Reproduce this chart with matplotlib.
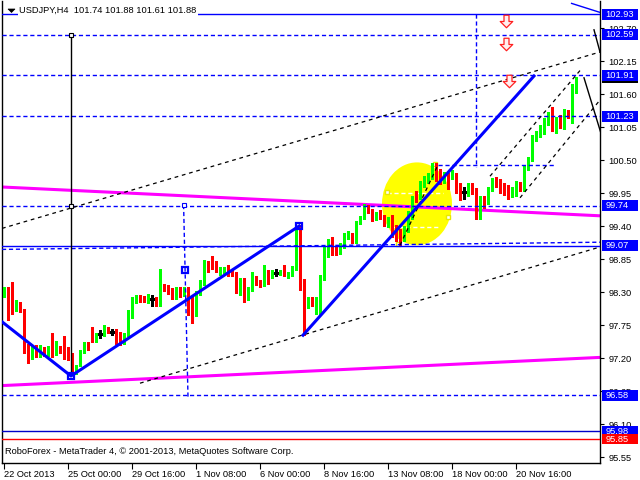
import numpy as np
import matplotlib
matplotlib.use("Agg")
import matplotlib.pyplot as plt
from matplotlib.patches import Ellipse, Rectangle, Polygon
from matplotlib.path import Path
from matplotlib.transforms import blended_transform_factory

plt.rcParams['font.family'] = ['Liberation Sans', 'DejaVu Sans']
FS = 6.7

# --- USDJPY H4 candles, one per 4h bar ---
opens = [98.23, 98.34, 98.14, 98.01, 98.11, 98.00, 97.42, 97.19, 97.40, 97.23,
         97.36, 97.29, 97.32, 97.28, 97.36, 97.35, 97.28, 97.27, 96.97, 97.08,
         97.31, 97.44, 97.61, 97.47, 97.60, 97.58, 97.69, 97.64, 97.67, 97.61,
         97.47, 97.58, 97.89, 98.14, 98.23, 98.22, 98.14, 98.19, 98.19, 98.08,
         98.42, 98.39, 98.31, 98.22, 98.34, 98.25, 98.34, 98.18, 97.93, 98.28,
         98.44, 98.78, 98.86, 98.76, 98.64, 98.64, 98.69, 98.67, 98.60, 98.28,
         98.50, 98.18, 98.34, 98.53, 98.47, 98.42, 98.64, 98.57, 98.62, 98.61,
         98.72, 98.57, 98.58, 98.69, 99.36, 98.50, 98.04, 98.19, 98.08, 98.17,
         98.53, 98.92, 99.19, 99.03, 98.97, 99.06, 99.21, 99.23, 99.12, 99.46,
         99.53, 99.69, 99.66, 99.51, 99.62, 99.54, 99.42, 99.46, 99.38, 99.33,
         99.21, 99.33, 99.56, 99.90, 99.89, 100.08, 100.17, 100.22, 100.36, 100.31,
         100.17, 100.25, 100.23, 100.25, 100.10, 99.97, 99.94, 100.08, 100.00, 99.54,
         99.86, 99.80, 100.00, 100.18, 100.14, 100.08, 100.05, 99.92, 99.94, 100.11,
         100.00, 100.38, 100.50, 100.86, 100.92, 100.97, 101.12, 101.33, 101.06, 101.22,
         101.07, 101.30, 101.26, 101.74]
highs = [98.38, 98.39, 98.47, 98.16, 98.13, 98.01, 97.43, 97.42, 97.42, 97.41,
         97.38, 97.40, 97.61, 97.49, 97.40, 97.56, 97.39, 97.28, 97.09, 97.33,
         97.47, 97.47, 97.71, 97.62, 97.67, 97.75, 97.71, 97.68, 97.69, 97.63,
         97.62, 98.00, 98.22, 98.25, 98.25, 98.24, 98.26, 98.25, 98.22, 98.69,
         98.44, 98.42, 98.36, 98.39, 98.39, 98.39, 98.39, 98.22, 98.31, 98.50,
         98.83, 98.81, 98.90, 98.81, 98.72, 98.72, 98.75, 98.69, 98.64, 98.53,
         98.53, 98.38, 98.64, 98.57, 98.50, 98.75, 98.67, 98.67, 98.69, 98.67,
         98.75, 98.64, 98.73, 99.40, 99.42, 98.51, 98.22, 98.22, 98.22, 98.58,
         99.06, 99.19, 99.22, 99.06, 99.11, 99.28, 99.31, 99.28, 99.49, 99.57,
         99.77, 99.75, 99.68, 99.64, 99.66, 99.58, 99.55, 99.58, 99.42, 99.35,
         99.40, 99.65, 99.90, 99.98, 100.15, 100.24, 100.28, 100.45, 100.45, 100.35,
         100.30, 100.28, 100.33, 100.29, 100.12, 100.05, 100.12, 100.12, 100.03, 99.90,
         99.90, 100.05, 100.20, 100.22, 100.18, 100.12, 100.08, 100.05, 100.15, 100.14,
         100.42, 100.55, 100.92, 100.98, 101.08, 101.20, 101.30, 101.38, 101.22, 101.25,
         101.35, 101.33, 101.76, 101.88]
lows = [98.21, 97.83, 97.94, 97.99, 97.96, 97.28, 97.12, 97.18, 97.21, 97.21,
        97.24, 97.23, 97.21, 97.25, 97.28, 97.19, 97.17, 96.91, 96.94, 97.06,
        97.28, 97.33, 97.47, 97.46, 97.53, 97.57, 97.61, 97.58, 97.43, 97.42,
        97.44, 97.57, 97.86, 98.11, 98.14, 98.13, 98.12, 98.06, 98.06, 98.07,
        98.31, 98.27, 98.19, 98.19, 98.22, 98.23, 97.92, 97.78, 97.90, 98.25,
        98.42, 98.64, 98.69, 98.64, 98.58, 98.61, 98.57, 98.56, 98.28, 98.25,
        98.14, 98.17, 98.32, 98.42, 98.38, 98.40, 98.44, 98.53, 98.57, 98.59,
        98.57, 98.54, 98.57, 98.67, 98.33, 97.58, 98.03, 98.06, 97.94, 97.94,
        98.50, 98.89, 98.92, 98.92, 98.94, 99.04, 99.18, 99.11, 99.11, 99.43,
        99.51, 99.61, 99.49, 99.50, 99.51, 99.40, 99.38, 99.22, 99.15, 99.06,
        99.15, 99.30, 99.52, 99.80, 99.85, 100.05, 100.12, 100.18, 100.15, 100.10,
        100.12, 100.02, 100.18, 99.95, 99.83, 99.85, 99.90, 99.93, 99.52, 99.52,
        99.70, 99.76, 99.98, 100.05, 99.95, 99.92, 99.85, 99.88, 99.90, 99.98,
        99.98, 100.33, 100.48, 100.82, 100.88, 100.93, 101.08, 100.98, 100.95, 101.03,
        101.02, 101.20, 101.12, 101.61]
closes = [98.34, 98.01, 98.01, 98.14, 97.99, 97.39, 97.21, 97.40, 97.23, 97.39,
          97.27, 97.33, 97.25, 97.47, 97.31, 97.25, 97.21, 96.97, 97.08, 97.31,
          97.46, 97.36, 97.48, 97.59, 97.60, 97.69, 97.64, 97.64, 97.58, 97.47,
          97.61, 97.89, 98.17, 98.22, 98.16, 98.16, 98.23, 98.19, 98.08, 98.42,
          98.33, 98.29, 98.22, 98.34, 98.25, 98.34, 98.06, 97.92, 98.28, 98.47,
          98.78, 98.66, 98.75, 98.69, 98.69, 98.68, 98.60, 98.58, 98.29, 98.50,
          98.19, 98.36, 98.57, 98.44, 98.40, 98.64, 98.53, 98.64, 98.62, 98.64,
          98.60, 98.61, 98.72, 99.39, 98.47, 98.06, 98.19, 98.07, 98.18, 98.54,
          98.96, 99.06, 99.03, 98.96, 99.08, 99.22, 99.28, 99.12, 99.46, 99.54,
          99.71, 99.64, 99.51, 99.61, 99.53, 99.44, 99.50, 99.38, 99.18, 99.19,
          99.38, 99.61, 99.86, 99.83, 100.11, 100.20, 100.22, 100.39, 100.19, 100.14,
          100.25, 100.07, 100.29, 100.00, 99.94, 99.97, 100.08, 99.97, 99.54, 99.86,
          99.74, 100.02, 100.15, 100.08, 100.00, 99.97, 99.94, 100.00, 100.11, 100.03,
          100.38, 100.50, 100.90, 100.95, 101.05, 101.17, 101.27, 101.06, 101.19, 101.07,
          101.30, 101.23, 101.74, 101.88]
assert len(opens) == len(highs) == len(lows) == len(closes)

time_ticks = [0, 16, 32, 48, 64, 80, 96, 112, 128]
time_labels = ["22 Oct 2013", "25 Oct 00:00", "29 Oct 16:00", "1 Nov 08:00",
               "6 Nov 00:00", "8 Nov 16:00", "13 Nov 08:00", "18 Nov 00:00",
               "20 Nov 16:00"]
price_ticks = [102.70, 102.15, 101.60, 101.05, 100.50, 99.95, 99.40, 98.85,
               98.30, 97.75, 97.20, 96.65, 96.10, 95.55]

# horizontal levels
solid_levels = [102.93, 99.07]
dashed_levels = [102.59, 101.91, 101.23, 99.74, 96.58]
blue_tags = [102.93, 102.59, 101.91, 101.23, 99.74, 99.07, 96.58]
navy_level = 95.98
red_level = 95.85

# drawn objects, (bar, price)
zig1_x, zig1_y = [-1, 16.75, 73.8], [97.83, 96.90, 99.40]
zig2_x, zig2_y = [74.75, 132.5], [97.58, 101.90]
mag1_x, mag1_y = [-0.5, 149], [100.05, 99.57]
mag2_x, mag2_y = [-0.5, 149], [96.74, 97.21]
chan_up_x, chan_up_y = [-0.5, 149], [99.36, 102.30]
chan_lo_x, chan_lo_y = [34, 149], [96.78, 99.05]
near_x, near_y = [-0.5, 149], [99.01, 99.13]
shortlvl_x, shortlvl_y = [108.5, 137.75], [100.42, 100.42]
vdash1_x, vdash1_y = [118, 118], [102.93, 100.38]
vdash2_x, vdash2_y = [44.9, 46.0], [99.75, 96.55]
vblack_x, vblack_y = [16.75, 16.75], [102.59, 96.93]
steep_x, steep_y = [99, 108.5], [99.08, 100.42]
chA_x, chA_y = [121.5, 144.5], [100.23, 102.03]
chB_x, chB_y = [129, 149], [99.87, 101.50]
fc1_x, fc1_y = [145, 150], [101.87, 100.78]
fc2_x, fc2_y = [147.5, 149], [102.67, 102.30]
thin_x, thin_y = [141.9, 149], [103.11, 102.96]
arrows_x, arrows_y = [125.4, 125.4, 126.3], [102.81, 102.44, 101.82]
ell_center, ell_w, ell_h = (103.25, 99.77), 17.5, 1.38

fig = plt.figure(figsize=(6.4, 4.8), dpi=100)
ax = fig.add_axes([2 / 640, 17 / 480, 598 / 640, 462 / 480])
ax.set_xlim(-0.5, 149)
ax.set_ylim(95.45, 103.15)

BLUE = '#0000ff'
DASH = (0, (3, 2))

# ellipse and its dashed marks
ax.add_patch(Ellipse(ell_center, ell_w, ell_h, fc='#ffff00', ec='none', zorder=1))
ax.plot([95.75, 109.75], [99.95, 99.95], color='white', ls=DASH, lw=1, zorder=2)
ax.plot([97, 109], [99.38, 99.38], color='white', ls=DASH, lw=1, zorder=2)
ax.plot([95.75, 107.75, 111, 98.5], [99.97, 100.43, 99.55, 99.1], ls='none',
        marker='s', ms=3.5, mfc='white', mec='#e8e800', mew=1, zorder=2)

# magenta lines
ax.plot(mag1_x, mag1_y, color='#ff00ff', lw=2.2, zorder=2, solid_capstyle='butt')
ax.plot(mag2_x, mag2_y, color='#ff00ff', lw=2.2, zorder=2, solid_capstyle='butt')

# candles
o, h, l, c = map(np.array, (opens, highs, lows, closes))
x = np.arange(len(o))
cols = np.where(c > o, '#00ff00', np.where(c < o, '#ff0000', '#000000'))
ax.vlines(x, l, h, colors=cols, lw=0.8, zorder=3, antialiased=False)
ax.bar(x, np.abs(c - o), bottom=np.minimum(o, c), width=0.75, color=cols, lw=0,
       zorder=3, antialiased=False)
flat = c == o
ax.hlines(c[flat], x[flat] - 0.45, x[flat] + 0.45, colors='black', lw=0.8, zorder=3,
          antialiased=False)

# horizontal levels
for lv in solid_levels:
    ax.axhline(lv, color=BLUE, lw=1, zorder=4)
for lv in dashed_levels:
    ax.axhline(lv, color=BLUE, lw=1, ls=DASH, zorder=4)
ax.axhline(navy_level, color='#0000c8', lw=1, zorder=4)
ax.axhline(red_level, color='#ff0000', lw=1, zorder=4)
ax.plot(near_x, near_y, color=BLUE, lw=1, ls=DASH, zorder=4)
ax.plot(shortlvl_x, shortlvl_y, color=BLUE, lw=1, ls=DASH, zorder=4)
ax.plot(vdash1_x, vdash1_y, color=BLUE, lw=1, ls=DASH, zorder=4)
ax.plot(vdash2_x, vdash2_y, color=BLUE, lw=1, ls=DASH, zorder=4)
ax.plot(vdash2_x[:1], vdash2_y[:1], ls='none', marker='s', ms=3.5, mfc='white',
        mec=BLUE, mew=0.8, zorder=5)

# black objects
ax.plot(vblack_x, vblack_y, color='black', lw=1, zorder=4)
for xs, ys in [(chan_up_x, chan_up_y), (chan_lo_x, chan_lo_y), (steep_x, steep_y),
               (chA_x, chA_y), (chB_x, chB_y)]:
    ax.plot(xs, ys, color='black', lw=0.9, ls=(0, (3, 3)), zorder=4)
ax.plot(fc1_x, fc1_y, color='black', lw=1, zorder=4)
ax.plot(fc2_x, fc2_y, color='black', lw=1, zorder=4)
ax.plot(thin_x, thin_y, color=BLUE, lw=1, zorder=4)
ax.plot([vblack_x[0], vblack_x[0]], [vblack_y[0], 99.74], ls='none', marker='s', ms=3.5,
        mfc='white', mec='black', mew=0.8, zorder=5)

# blue zigzag
ax.plot(zig1_x, zig1_y, color=BLUE, lw=2.2, zorder=5)
ax.plot(zig2_x, zig2_y, color=BLUE, lw=2.2, zorder=5)
ax.plot([16.75, 45.2, 73.8], [96.90, 98.66, 99.40], ls='none', marker='s', ms=5,
        mfc='none', mec=BLUE, mew=1.6, zorder=6)

# down arrows
arrow = Path([(-0.2, 0.5), (0.2, 0.5), (0.2, 0.0), (0.5, 0.0), (0, -0.5),
              (-0.5, 0.0), (-0.2, 0.0), (-0.2, 0.5)], closed=True)
ax.plot(arrows_x, arrows_y, ls='none', marker=arrow, ms=9, mfc='#fff0f0',
        mec='#ff2020', mew=0.9, zorder=6)

# axes styling
ax.spines['top'].set_visible(False)
for s in ('left', 'right', 'bottom'):
    ax.spines[s].set_linewidth(1)
ax.yaxis.tick_right()
ax.set_yticks(price_ticks)
ax.set_yticklabels([f"{p:.2f}" for p in price_ticks])
ax.tick_params(axis='y', length=3, pad=3, labelsize=FS, direction='out')
ax.set_xticks(time_ticks)
ax.set_xticklabels(time_labels, ha='left')
ax.tick_params(axis='x', length=4, pad=1, labelsize=FS, direction='out')

# price tags on the right scale
tr = blended_transform_factory(ax.transAxes, ax.transData)
tag_h = 0.183


def tag(level, fc, zo, label=True):
    ax.add_patch(Rectangle((1.0033, level - tag_h / 2), 0.0602, tag_h, transform=tr,
                           fc=fc, ec='none', clip_on=False, zorder=zo))
    if label:
        ax.text(1.0095, level, f"{level:.2f}", transform=tr, ha='left', va='center',
                color='white', fontsize=FS, clip_on=False, zorder=zo + 0.5)


# bid tag sits under the 101.91 tag, only its lower edge shows
tag(closes[-1], 'black', 10, label=False)
for lv in blue_tags:
    tag(lv, BLUE, 11)
tag(navy_level, BLUE, 11)
tag(red_level, '#ff0000', 11)

# header and footer
title = f"USDJPY,H4  {opens[-1]:.2f} {highs[-1]:.2f} {lows[-1]:.2f} {closes[-1]:.2f}"
fig.text(19 / 640, 1 - 10.5 / 480, title, fontsize=FS, ha='left', va='center',
         bbox=dict(boxstyle='square,pad=0.15', fc='white', ec='none'), zorder=20)
fig.patches.append(Polygon([(8 / 640, 1 - 9 / 480), (15 / 640, 1 - 9 / 480),
                            (11.5 / 640, 1 - 12.5 / 480)], closed=True,
                           transform=fig.transFigure, fc='black', ec='black', lw=0.5))
fig.text(5 / 640, 1 - 452 / 480,
         "RoboForex - MetaTrader 4, \u00a9 2001-2013, MetaQuotes Software Corp.",
         fontsize=FS, ha='left', va='center')

fig.savefig("out.png", dpi=100)
